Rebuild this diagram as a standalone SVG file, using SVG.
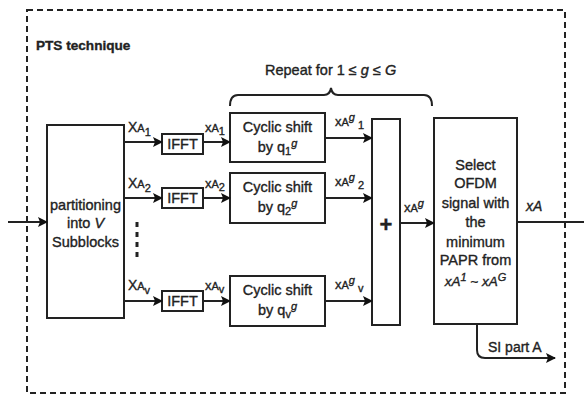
<svg xmlns="http://www.w3.org/2000/svg" width="584" height="398" viewBox="0 0 584 398">
<defs>
<marker id="ah" markerWidth="10" markerHeight="10" refX="9" refY="5" orient="auto" markerUnits="userSpaceOnUse">
<path d="M0,0 L10,5 L0,10 L2,5 Z" fill="#111"/>
</marker>
<style>
.box{fill:#fff;stroke:#222;stroke-width:2}
.ln{fill:none;stroke:#222;stroke-width:2}
.t{font-family:"Liberation Sans",Arial,sans-serif;font-size:14.5px;fill:#222;stroke:#222;stroke-width:0.35}
.c{text-anchor:middle}
.s{font-size:11px}
.l{font-size:13px}
</style>
</defs>
<rect width="584" height="398" fill="#fff"/>
<rect x="27" y="10" width="538" height="383" fill="none" stroke="#222" stroke-width="2" stroke-dasharray="6,4"/>
<text class="t" x="36" y="50" style="font-size:13.6px;font-weight:bold">PTS technique</text>

<g id="brace">
<path class="ln" d="M230,106 Q230,95 238,95 L324,95 Q330,95 331,88 Q332,95 338,95 L424,95 Q432,95 432,106"/>
<text class="t" x="265" y="75">Repeat for 1 ≤ <tspan font-style="italic">g</tspan>  ≤ <tspan font-style="italic">G</tspan></text>
</g>

<g id="partition">
<rect class="box" x="47" y="125" width="77" height="193"/>
<text class="t c" x="85.5" y="210">partitioning</text>
<text class="t c" x="85.5" y="228">into <tspan font-style="italic">V</tspan></text>
<text class="t c" x="85.5" y="247">Subblocks</text>
</g>

<g id="ifft1"><rect class="box" x="162" y="134" width="41" height="20"/><text class="t c" x="182.5" y="149">IFFT</text></g>
<g id="ifft2"><rect class="box" x="162" y="188" width="41" height="20"/><text class="t c" x="182.5" y="203">IFFT</text></g>
<g id="ifftv"><rect class="box" x="162" y="291" width="41" height="20"/><text class="t c" x="182.5" y="306">IFFT</text></g>

<g id="cs1"><rect class="box" x="230" y="113" width="95" height="49"/>
<text class="t c" x="277.5" y="132">Cyclic shift</text>
<text class="t c" x="277.5" y="152">by <tspan>q</tspan><tspan class="s" dy="3">1</tspan><tspan class="s" dy="-8" font-style="italic">g</tspan></text></g>
<g id="cs2"><rect class="box" x="230" y="173" width="95" height="50"/>
<text class="t c" x="277.5" y="192">Cyclic shift</text>
<text class="t c" x="277.5" y="212">by <tspan>q</tspan><tspan class="s" dy="3">2</tspan><tspan class="s" dy="-8" font-style="italic">g</tspan></text></g>
<g id="csv"><rect class="box" x="230" y="276" width="95" height="50"/>
<text class="t c" x="277.5" y="295">Cyclic shift</text>
<text class="t c" x="277.5" y="315">by <tspan>q</tspan><tspan class="s" dy="3">v</tspan><tspan class="s" dy="-8" font-style="italic">g</tspan></text></g>

<g id="sum"><rect class="box" x="372" y="119" width="28" height="206"/>
<text class="t c" x="386" y="232" style="font-size:22px;font-weight:bold">+</text></g>

<g id="select"><rect class="box" x="434" y="118" width="83" height="206"/>
<text class="t c" x="475.5" y="170">Select</text>
<text class="t c" x="475.5" y="188">OFDM</text>
<text class="t c" x="475.5" y="208">signal with</text>
<text class="t c" x="475.5" y="227">the</text>
<text class="t c" x="475.5" y="247">minimum</text>
<text class="t c" x="475.5" y="265">PAPR from</text>
<text class="t c" x="475.5" y="286" style="font-size:13.5px;font-style:italic">xA<tspan class="s" dy="-5">1</tspan><tspan dy="5"> ~ xA</tspan><tspan class="s" dy="-5">G</tspan></text>
</g>

<g id="connectors">
<line class="ln" x1="8" y1="222" x2="47" y2="222" marker-end="url(#ah)"/>
<line class="ln" x1="124" y1="142" x2="162" y2="142" marker-end="url(#ah)"/>
<line class="ln" x1="124" y1="198" x2="162" y2="198" marker-end="url(#ah)"/>
<line class="ln" x1="124" y1="301" x2="162" y2="301" marker-end="url(#ah)"/>
<line class="ln" x1="203" y1="142" x2="230" y2="142" marker-end="url(#ah)"/>
<line class="ln" x1="203" y1="198" x2="230" y2="198" marker-end="url(#ah)"/>
<line class="ln" x1="203" y1="301" x2="230" y2="301" marker-end="url(#ah)"/>
<line class="ln" x1="325" y1="138" x2="372" y2="138" marker-end="url(#ah)"/>
<line class="ln" x1="325" y1="198" x2="372" y2="198" marker-end="url(#ah)"/>
<line class="ln" x1="325" y1="301" x2="372" y2="301" marker-end="url(#ah)"/>
<line class="ln" x1="400" y1="223" x2="434" y2="223" marker-end="url(#ah)"/>
<line class="ln" x1="517" y1="222" x2="584" y2="222"/>
<path class="ln" d="M477,324 L477,350 Q477,358 485,358 L555,358" marker-end="url(#ah)"/>
<line x1="137" y1="222" x2="137" y2="258" stroke="#222" stroke-width="3" stroke-dasharray="5,5"/>
</g>

<g id="labels">
<text class="t" x="128" y="132" style="font-size:14px">X<tspan class="s">A</tspan><tspan class="s" dy="4">1</tspan></text>
<text class="t" x="128" y="188" style="font-size:14px">X<tspan class="s">A</tspan><tspan class="s" dy="4">2</tspan></text>
<text class="t" x="128" y="290" style="font-size:14px">X<tspan class="s">A</tspan><tspan class="s" dy="4">v</tspan></text>
<text class="t l" x="205" y="132">x<tspan class="s">A</tspan><tspan class="s" dy="3">1</tspan></text>
<text class="t l" x="205" y="188">x<tspan class="s">A</tspan><tspan class="s" dy="3">2</tspan></text>
<text class="t l" x="205" y="290">x<tspan class="s">A</tspan><tspan class="s" dy="3">v</tspan></text>
<text class="t l" x="335" y="126">x<tspan class="s">A</tspan><tspan class="s" dy="-5" font-style="italic">g</tspan><tspan class="s" dy="8"> 1</tspan></text>
<text class="t l" x="335" y="186">x<tspan class="s">A</tspan><tspan class="s" dy="-5" font-style="italic">g</tspan><tspan class="s" dy="8"> 2</tspan></text>
<text class="t l" x="335" y="289">x<tspan class="s">A</tspan><tspan class="s" dy="-5" font-style="italic">g</tspan><tspan class="s" dy="8"> v</tspan></text>
<text class="t l" x="404" y="212">x<tspan class="s">A</tspan><tspan class="s" dy="-5" font-style="italic">g</tspan></text>
<text class="t" x="526" y="211" style="font-size:14px;font-style:italic">xA</text>
<text class="t" x="488" y="352" style="font-size:14px">SI part A</text>
</g>
</svg>
